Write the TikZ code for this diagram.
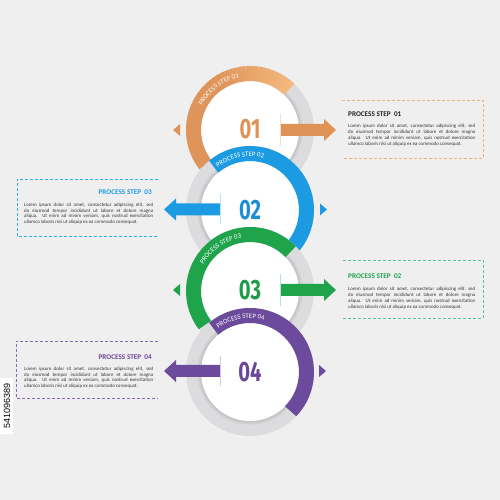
\documentclass[tikz,border=0pt]{standalone}
\usepackage{fontspec}
\setmainfont{Carlito}
\newfontfamily\numfont{Fira Sans}
\newfontfamily\idfont{Liberation Sans}
\usetikzlibrary{decorations.text,calc}
\definecolor{bg}{HTML}{EFEFEF}
\definecolor{ringgray}{HTML}{DCDCDE}
\definecolor{ringshadow}{HTML}{C4C4C6}
\definecolor{orD}{HTML}{DF955A}
\definecolor{orL}{HTML}{F5B87D}
\definecolor{orA}{HTML}{DE9256}
\definecolor{orBox}{HTML}{F0B27A}
\definecolor{bl}{HTML}{1D9BE2}
\definecolor{blN}{HTML}{1B8ED6}
\definecolor{blBox}{HTML}{3AAEE3}
\definecolor{gr}{HTML}{1FA34B}
\definecolor{grN}{HTML}{1E9A48}
\definecolor{grBox}{HTML}{5CC48E}
\definecolor{pu}{HTML}{6C4A9C}
\definecolor{puN}{HTML}{6A4798}
\definecolor{puBox}{HTML}{8A6AB8}
\definecolor{bodytxt}{HTML}{333333}
\definecolor{titletxt}{HTML}{222222}
\newcommand\arcfont{\fontsize{6.8pt}{7.5pt}\selectfont}
\newcommand\bodytext[1]{\parbox[t]{#1}{\fontsize{4.9pt}{5.8pt}\selectfont\color{bodytxt}%
\makebox[#1][s]{Lorem ipsum dolor sit amet, consectetur adipiscing elit, sed}\\
\makebox[#1][s]{do eiusmod tempor incididunt ut labore et dolore magna}\\
\makebox[#1][s]{aliqua. Ut enim ad minim veniam, quis nostrud exercitation}\\
ullamco laboris nisi ut aliquip ex ea commodo consequat.}}
\newcommand\ringbase[1]{%
  \fill[ringgray] (#1) circle[radius=64];
  \fill[ringshadow!55!ringgray] (#1) circle[radius=52.5];
  \fill[ringshadow] (#1) circle[radius=50.5];
  \fill[white] (#1) circle[radius=49];}
\newcommand\rarrow[3]{%
  \fill[#1] (#2,#3-6) -- (324,#3-6) -- (324,#3-11) -- (336,#3) -- (324,#3+11) -- (324,#3+6) -- (#2,#3+6) -- cycle;
  \draw[#1!30, line width=0.6] (#2,#3-16) -- (#2,#3+16);}
\newcommand\larrow[3]{%
  \fill[#1] (#2,#3-6) -- (176,#3-6) -- (176,#3-11) -- (164,#3) -- (176,#3+11) -- (176,#3+6) -- (#2,#3+6) -- cycle;
  \draw[#1!30, line width=0.6] (#2,#3-15) -- (#2,#3+15);}
\tikzset{
  boxline/.style={dash pattern=on 3pt off 2pt, line width=0.8pt},
  steptitle/.style={inner sep=0pt, font=\fontsize{7.2pt}{8pt}\selectfont\bfseries},
  bodynode/.style={inner sep=0pt, anchor=base west},
  numnode/.style={inner sep=0pt, font=\numfont\bfseries\fontsize{28pt}{28pt}\selectfont},
  arctext/.style={decorate, decoration={text along path, text={|\arcfont|#1}, text align=center, text color=white}}
}
\begin{document}
\begin{tikzpicture}[x=1pt,y=1pt]
\useasboundingbox (0,0) rectangle (500,500);
\fill[bg] (0,0) rectangle (500,500);
\coordinate (c1) at (250,370);
\coordinate (c2) at (250,290);
\coordinate (c3) at (250,209);
\coordinate (c4) at (250,128);

% ---------- circle 1 (orange)
\ringbase{c1}
\draw[line width=15, orD] ($(c1)+(218:56.5)$) arc[start angle=218, end angle=120, radius=56.5];
\foreach \k in {0,...,18}{
  \pgfmathsetmacro\pct{100-\k*5.5}
  \draw[line width=15, orL!\pct!orD] ($(c1)+(46+\k*4:56.5)$) arc[start angle=46+\k*4, end angle=46+\k*4+4.3, radius=56.5];
}
\path[arctext={PROCESS STEP 01}] ($(c1)+(164:53.5)$) arc[start angle=164, end angle=91, radius=53.5];
\node[numnode, text=orA] (n1) at (250,371) {\scalebox{0.72}[1]{01}};
\rarrow{orA}{280}{370}
\fill[orA] (180,364) -- (173,370) -- (180,376) -- cycle;

% ---------- circle 2 (blue)
\ringbase{c2}
\draw[line width=15, bl] ($(c2)+(130:56.5)$) arc[start angle=130, end angle=-45, radius=56.5];
\path[arctext={PROCESS STEP 02}] ($(c2)+(137:53.5)$) arc[start angle=137, end angle=65, radius=53.5];
\node[numnode, text=blN] (n2) at (250,290) {\scalebox{0.72}[1]{02}};
\larrow{bl}{220}{290.5}
\fill[bl] (320,284.5) -- (327,290.5) -- (320,296.5) -- cycle;

% ---------- circle 3 (green)
\ringbase{c3}
\draw[line width=15, gr] ($(c3)+(217:56.5)$) arc[start angle=217, end angle=44, radius=56.5];
\path[arctext={PROCESS STEP 03}] ($(c3)+(162:53.5)$) arc[start angle=162, end angle=88, radius=53.5];
\node[numnode, text=grN] (n3) at (250,210) {\scalebox{0.72}[1]{03}};
\rarrow{gr}{280}{210}
\fill[gr] (180,204) -- (173,210) -- (180,216) -- cycle;

% ---------- circle 4 (purple)
\ringbase{c4}
\draw[line width=15, pu] ($(c4)+(130:56.5)$) arc[start angle=130, end angle=-44, radius=56.5];
\path[arctext={PROCESS STEP 04}] ($(c4)+(137:53.5)$) arc[start angle=137, end angle=64, radius=53.5];
\node[numnode, text=puN] (n4) at (250,128) {\scalebox{0.72}[1]{04}};
\larrow{pu}{220}{129}
\fill[pu] (319,123) -- (326,129) -- (319,135) -- cycle;

% ---------- text boxes
\draw[boxline, orBox] (342,400) -- (483,400) -- (483,342) -- (342,342);
\node[steptitle, anchor=base west, text=titletxt] (t1) at (348,383) {PROCESS STEP\ \ 01};
\node[bodynode] (b1) at (348,375.5) {\bodytext{127pt}};

\draw[boxline, grBox] (343,240) -- (483,240) -- (483,182) -- (343,182);
\node[steptitle, anchor=base west, text=gr] (t2) at (348,221) {PROCESS STEP\ \ 02};
\node[bodynode] (b2) at (348,212.5) {\bodytext{127pt}};

\draw[boxline, blBox] (158,321) -- (17,321) -- (17,264) -- (158,264);
\node[steptitle, anchor=base east, text=bl] (t3) at (152,305) {PROCESS STEP\ \ 03};
\node[bodynode] (b3) at (24,297) {\bodytext{129pt}};

\draw[boxline, puBox] (158,159) -- (16,159) -- (16,102) -- (158,102);
\node[steptitle, anchor=base east, text=puN] (t4) at (152,140) {PROCESS STEP\ \ 04};
\node[bodynode] (b4) at (24,133) {\bodytext{129pt}};

% ---------- id strip
\fill[white] (0,66) rectangle (13,122);
\node[rotate=90, inner sep=0pt, font=\idfont\fontsize{9pt}{9pt}\selectfont] (id) at (7,94) {541096389};
\end{tikzpicture}
\end{document}
